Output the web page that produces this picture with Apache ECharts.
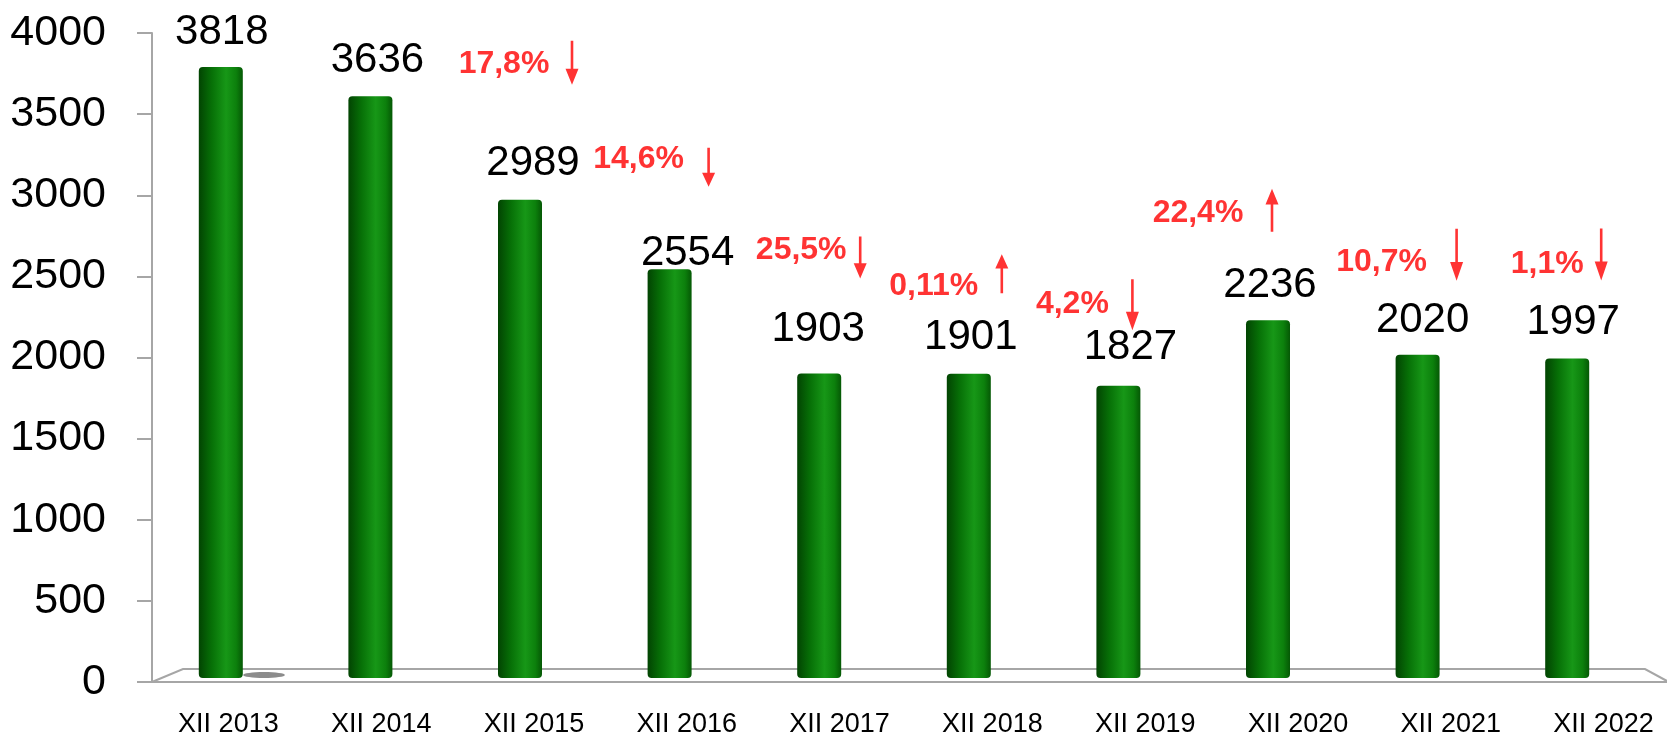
<!DOCTYPE html>
<html lang="pl">
<head>
    <meta charset="UTF-8">
    <script src="https://cdn.jsdelivr.net/npm/echarts@6/dist/echarts.min.js"></script>
    <title>XII 2013 - XII 2022</title>
    <style>
        html, body { margin: 0; padding: 0; background: #fff; }
        #chart { width: 1667px; height: 735px; }
    </style>
</head>
<body>
<div id="chart"></div>
<script>
    // dane
    var categories = ['XII 2013', 'XII 2014', 'XII 2015', 'XII 2016', 'XII 2017',
                      'XII 2018', 'XII 2019', 'XII 2020', 'XII 2021', 'XII 2022'];
    var values = [3818, 3636, 2989, 2554, 1903, 1901, 1827, 2236, 2020, 1997];
    // zmiana r/r, od XII 2015
    var changeIndex = [2, 3, 4, 5, 6, 7, 8, 9];
    var changeText = ['17,8%', '14,6%', '25,5%', '0,11%', '4,2%', '22,4%', '10,7%', '1,1%'];
    var changeDir = ['down', 'down', 'down', 'up', 'down', 'up', 'down', 'down'];
    var yTicks = [0, 4000, 500];

    // przesuniecia etykiet (px), tylko wyglad
    var valueLabelShift = [[1, -1], [7, -2], [13, -2], [18, 18], [-1, -10],
                           [2, -2], [12, -4], [2, -1], [5, 0], [6, -2]];
    // [dx tekstu, dy tekstu, dx strzalki, dy strzalki, dlugosc strzalki]
    var noteShift = [
        [-16, -136, 52, -137, 44],
        [-31, -110, 39, -102, 39],
        [-18, -123, 41, -116, 42],
        [-35, -88, 33, -100, 39],
        [-46, -82, 14, -81, 51],
        [-70, -107, 4, -110, 43],
        [-36, -93, 39, -100, 52],
        [-20, -94, 34, -104, 52]
    ];

    var arrowDown = 'path://M5.2,0 L7.8,0 L7.8,28 L13,28 L6.5,44 L0,28 L5.2,28 Z';
    var arrowUp = 'path://M6.5,0 L13,16 L7.8,16 L7.8,44 L5.2,44 L5.2,16 L0,16 Z';
    var axisGray = '#a6a6a6';
    var font = 'Liberation Sans';

    var barData = values.map(function (v, i) {
        return {
            value: v,
            label: { offset: valueLabelShift[i] }
        };
    });

    var noteTexts = changeIndex.map(function (idx, k) {
        return {
            value: [idx, values[idx]],
            label: { formatter: changeText[k], offset: [noteShift[k][0], noteShift[k][1]] }
        };
    });

    var noteArrows = changeIndex.map(function (idx, k) {
        return {
            value: [idx, values[idx]],
            symbol: changeDir[k] === 'up' ? arrowUp : arrowDown,
            symbolSize: [13, noteShift[k][4]],
            symbolOffset: [noteShift[k][2], noteShift[k][3]]
        };
    });

    var myChart = echarts.init(document.getElementById('chart'));
    var option = {
        animation: false,
        backgroundColor: '#fff',
        textStyle: { fontFamily: font },
        grid: [
            { left: 152, top: 33, width: 1528, height: 649, outerBoundsMode: 'none', containLabel: false },
            { left: 146, top: 38, width: 1496, height: 640, outerBoundsMode: 'none', containLabel: false }
        ],
        xAxis: [{
            type: 'category',
            gridIndex: 0,
            data: categories,
            axisLine: { lineStyle: { color: axisGray, width: 2 } },
            axisTick: { length: 10, lineStyle: { color: axisGray, width: 2 } },
            axisLabel: { interval: 0, fontSize: 27, color: '#000', margin: 29, fontFamily: font }
        }, {
            type: 'category',
            gridIndex: 1,
            data: categories,
            show: false
        }],
        yAxis: [{
            type: 'value',
            gridIndex: 0,
            min: yTicks[0],
            max: yTicks[1],
            interval: yTicks[2],
            axisLine: { show: true, lineStyle: { color: axisGray, width: 2 } },
            axisTick: { show: true, length: 15, lineStyle: { color: axisGray, width: 2 } },
            axisLabel: {
                fontSize: 43,
                color: '#000',
                margin: 46,
                padding: [8, 0, 0, 0],
                fontFamily: font,
                formatter: function (v) { return String(v); }
            },
            splitLine: { show: false }
        }, {
            type: 'value',
            gridIndex: 1,
            min: yTicks[0],
            max: yTicks[1],
            show: false,
            splitLine: { show: false }
        }],
        graphic: [{
            type: 'polyline',
            z: 0,
            silent: true,
            shape: { points: [[152, 682], [183, 669], [1645, 669], [1667, 681]] },
            style: { stroke: axisGray, lineWidth: 2, fill: null }
        }, {
            type: 'ellipse',
            z: 0,
            silent: true,
            shape: { cx: 264, cy: 675, rx: 21, ry: 3 },
            style: { fill: '#8c8c8c' }
        }],
        series: [{
            name: 'liczba',
            type: 'bar',
            xAxisIndex: 1,
            yAxisIndex: 1,
            barWidth: 44,
            z: 3,
            data: barData,
            itemStyle: {
                borderRadius: 4,
                color: new echarts.graphic.LinearGradient(0, 0, 1, 0, [
                    { offset: 0, color: '#024402' },
                    { offset: 0.3, color: '#077107' },
                    { offset: 0.62, color: '#179717' },
                    { offset: 0.85, color: '#0c800c' },
                    { offset: 1, color: '#055805' }
                ])
            },
            label: {
                show: true,
                position: 'top',
                distance: 13,
                fontSize: 42,
                color: '#000',
                fontFamily: font
            }
        }, {
            name: 'strzalki',
            type: 'scatter',
            xAxisIndex: 1,
            yAxisIndex: 1,
            z: 4,
            silent: true,
            itemStyle: { color: '#ff0000' },
            data: noteArrows
        }, {
            name: 'zmiana',
            type: 'scatter',
            xAxisIndex: 1,
            yAxisIndex: 1,
            z: 4,
            silent: true,
            symbolSize: 1,
            itemStyle: { color: 'rgba(0,0,0,0)' },
            label: {
                show: true,
                position: 'inside',
                color: '#ff0000',
                fontWeight: 'bold',
                fontSize: 32,
                fontFamily: font
            },
            data: noteTexts
        }]
    };
    myChart.setOption(option);
</script>
</body>
</html>
